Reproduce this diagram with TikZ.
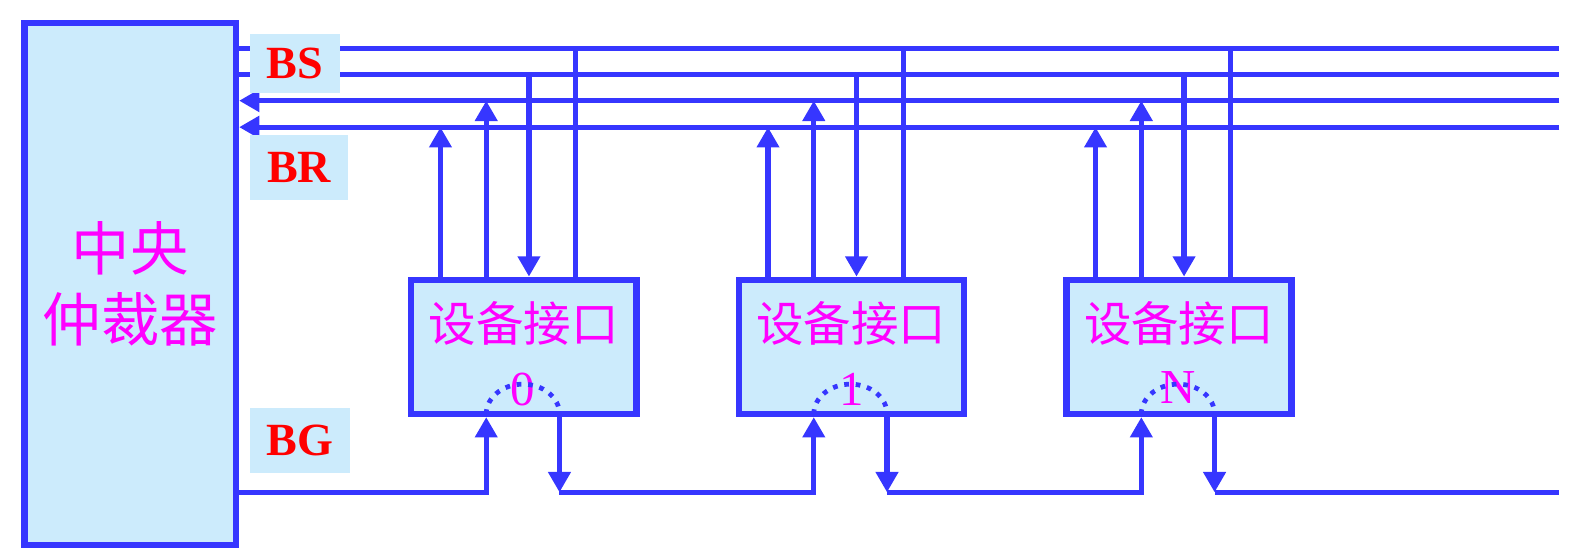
\documentclass[tikz,border=0pt]{standalone}
\usepackage{fontspec}
\setmainfont{Liberation Serif}
\newfontfamily\cjk{Noto Sans CJK SC}
\usetikzlibrary{arrows.meta}
\definecolor{busblue}{HTML}{3636FF}
\definecolor{boxfill}{HTML}{CCEBFC}
\definecolor{mag}{HTML}{FF00FF}
\definecolor{lblred}{HTML}{FF0000}
\begin{document}
\begin{tikzpicture}[x=0.75pt,y=-0.75pt,
  bus/.style={draw=busblue,line width=3.9pt},
  arr/.style={bus,-{Triangle[width=16pt,length=15pt]}},
  unitbox/.style={draw=busblue,line width=4.6pt,fill=boxfill,inner sep=0pt},
  devbox/.style={unitbox,minimum width=166pt,minimum height=99pt},
  lbl/.style={fill=boxfill,inner sep=0pt,text=lblred,font=\fontsize{34}{34}\selectfont\bfseries},
  devtxt/.style={inner sep=0pt,text=mag,font=\cjk\fontsize{35}{35}\selectfont},
  digit/.style={inner sep=0pt,text=mag,font=\fontsize{36}{36}\selectfont},
  chain/.style={draw=busblue,line width=3.5pt,dash pattern=on 3.5pt off 5pt}
]
\useasboundingbox (0,0) rectangle (1568,549);

% central arbiter
\node[unitbox,minimum width=156pt,minimum height=385pt,align=center,
      text=mag,font=\cjk\fontsize{43}{52}\selectfont] (arb) at (128,279) {中央\\仲裁器};

% bus end coordinates
\coordinate (bs1) at (1533,48);
\coordinate (bs2) at (1533,73);
\coordinate (br1) at (1533,99);
\coordinate (br2) at (1533,125);

\draw[bus] (arb.east |- bs1) -- (bs1);
\draw[bus] (arb.east |- bs2) -- (bs2);
\draw[arr] (br1) -- (arb.east |- br1);
\draw[arr] (br2) -- (arb.east |- br2);

% labels
\node[lbl,minimum width=66pt,minimum height=44pt] (lbs) at (290,62.5) {BS};
\node[lbl,minimum width=72pt,minimum height=48pt] (lbr) at (294,165) {BR};
\node[lbl,minimum width=73.5pt,minimum height=48pt] (lbg) at (295,433) {BG};

% device interfaces
\node[devbox] (d0) at (515,341) {};
\node[devbox] (d1) at (837,341) {};
\node[devbox] (d2) at (1159,341) {};

\node[devtxt] (d0t) at (515,318) {设备接口};
\node[devtxt] (d1t) at (837,318) {设备接口};
\node[devtxt] (d2t) at (1159,318) {设备接口};
\node[digit] (d0n) at (514,383) {0};
\node[digit] (d1n) at (837,383) {1};
\node[digit] (d2n) at (1158,381) {N};

% taps to bus
\foreach \c/\d in {515/d0,837/d1,1159/d2}{
  \coordinate (a\d) at (\c-82,125);
  \coordinate (b\d) at (\c-37,99);
  \coordinate (c\d) at (\c+5,73);
  \coordinate (e\d) at (\c+51,48);
  \draw[arr] (a\d |- \d.north) -- (a\d);
  \draw[arr] (b\d |- \d.north) -- (b\d);
  \draw[arr] (c\d) -- (c\d |- \d.north);
  \draw[bus] (e\d) -- (e\d |- \d.north);
  \coordinate (g\d) at (\c-37,484);
  \coordinate (h\d) at (\c+35,484);
  \draw[arr] (h\d |- \d.south) -- (h\d);
  \draw[chain] (\c-37,407) arc[start angle=180,end angle=0,x radius=27pt,y radius=22pt];
}

% grant daisy chain
\coordinate (gend) at (1533,484);
\draw[arr] (arb.east |- gd0) -- (gd0) -- (gd0 |- d0.south);
\draw[arr] (hd0) -- (gd1) -- (gd1 |- d1.south);
\draw[arr] (hd1) -- (gd2) -- (gd2 |- d2.south);
\draw[bus] (hd2) -- (gend);
\end{tikzpicture}
\end{document}
